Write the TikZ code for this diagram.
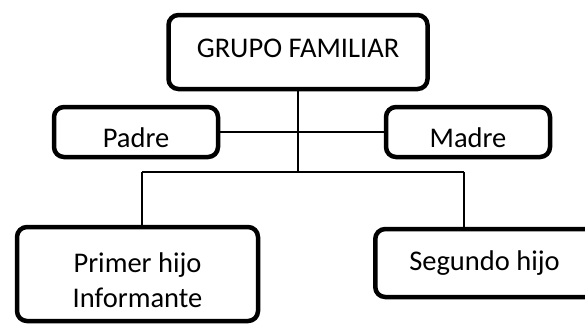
\documentclass[tikz,border=0pt]{standalone}
\usepackage{fontspec}
\setmainfont{Carlito}
\tikzset{
  famBox/.style={draw, line width=4.5pt, rounded corners=10pt, inner sep=0pt, align=center,
    font=\fontsize{28.5}{35}\selectfont},
  famLine/.style={line width=1.6pt}
}
\begin{document}
\begin{tikzpicture}[x=1pt,y=-1pt]
  \useasboundingbox (0,0) rectangle (585,325);
  \node[famBox, minimum width=259pt, minimum height=74pt, text height=20pt, text depth=10pt]
    (grupo) at (298,52) {GRUPO FAMILIAR};
  \node[famBox, minimum width=164pt, minimum height=50pt, text height=30pt, text depth=0pt]
    (padre) at (136,132) {Padre};
  \node[famBox, minimum width=164pt, minimum height=50pt, text height=30pt, text depth=0pt]
    (madre) at (468,132) {Madre};
  \node[famBox, minimum width=241pt, minimum height=94pt, text height=66pt, text depth=0pt]
    (primer) at (137.5,274) {\begin{tabular}[b]{@{}c@{}}Primer hijo\\Informante\end{tabular}};
  \node[famBox, anchor=west, inner xsep=34pt, minimum height=68pt, text height=20pt, text depth=6pt]
    (segundo) at (373,263) {\makebox[179pt][l]{Segundo hijo}};
  \coordinate (fork) at (298,172);
  \coordinate (forkL) at (142,172);
  \coordinate (forkR) at (464,172);
  \draw[famLine] (padre) -- (madre);
  \draw[famLine] (grupo) -- (fork);
  \draw[famLine] (forkL) -- (forkR);
  \draw[famLine] (forkL) -- (forkL |- primer.north);
  \draw[famLine] (forkR) -- (forkR |- segundo.north);
\end{tikzpicture}
\end{document}
